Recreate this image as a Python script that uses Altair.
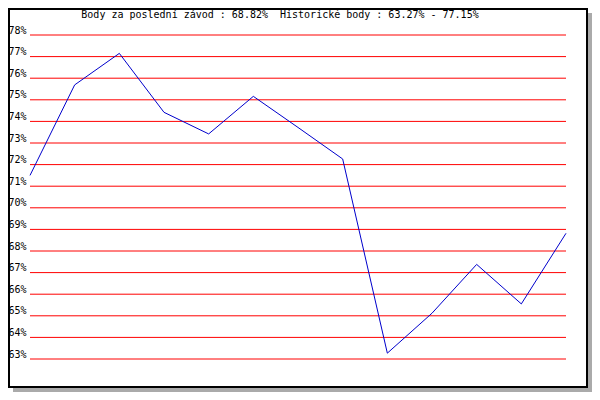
import altair as alt
import pandas as pd

# Data
race_index = list(range(13))
points = [71.5, 75.69, 77.15, 74.42, 73.42, 75.16, 73.72, 72.26, 63.27, 65.12, 67.38, 65.55, 68.82]
grid_levels = list(range(63, 79))
title_text = "Body za poslední závod : 68.82%\u00a0 Historické body : 63.27% - 77.15%"

W, H = 536, 324
FONT = "DejaVu Sans Mono"

line_df = pd.DataFrame({"i": race_index, "v": points})
grid_df = pd.DataFrame({"v": grid_levels})
one = pd.DataFrame({"a": [0]})

yscale = alt.Scale(domain=[63, 78], nice=False, zero=False)
yaxis = alt.Axis(
    values=grid_levels, labelExpr="datum.value + '%'", title=None,
    ticks=False, domain=False, grid=False, labelPadding=4,
    labelFont=FONT, labelFontSize=10, labelColor="black",
    labelBaseline="alphabetic", labelOffset=-2, zindex=1,
)

shadow = alt.Chart(one).mark_rect(color="#aaaaaa").encode(
    x=alt.value(-17), x2=alt.value(562), y=alt.value(-22), y2=alt.value(357)
)
frame = alt.Chart(one).mark_rect(fill="white", stroke="black", strokeWidth=2).encode(
    x=alt.value(-21), x2=alt.value(557), y=alt.value(-26), y2=alt.value(352)
)
grid = alt.Chart(grid_df).mark_rule(color="#ff0000", strokeWidth=1).encode(
    x=alt.value(0), x2=alt.value(W),
    y=alt.Y("v:Q", scale=yscale, axis=yaxis),
)
line = alt.Chart(line_df).mark_line(color="#0000cc", strokeWidth=1).encode(
    x=alt.X("i:Q", scale=alt.Scale(domain=[0, 12], nice=False, zero=False), axis=None),
    y=alt.Y("v:Q", scale=yscale, axis=yaxis),
)
title = alt.Chart(one).mark_text(
    text=title_text, font=FONT, fontSize=10, color="black",
    align="center", baseline="alphabetic",
).encode(x=alt.value(250), y=alt.value(-17))

chart = alt.layer(shadow, frame, grid, line, title).properties(
    width=W, height=H,
    autosize=alt.AutoSizeParams(type="none"),
    padding={"left": 22, "top": 27, "right": 26, "bottom": 33},
    background="white",
).configure_view(stroke=None)

chart.save("out.html", embed_options={"renderer": "svg", "actions": False})
